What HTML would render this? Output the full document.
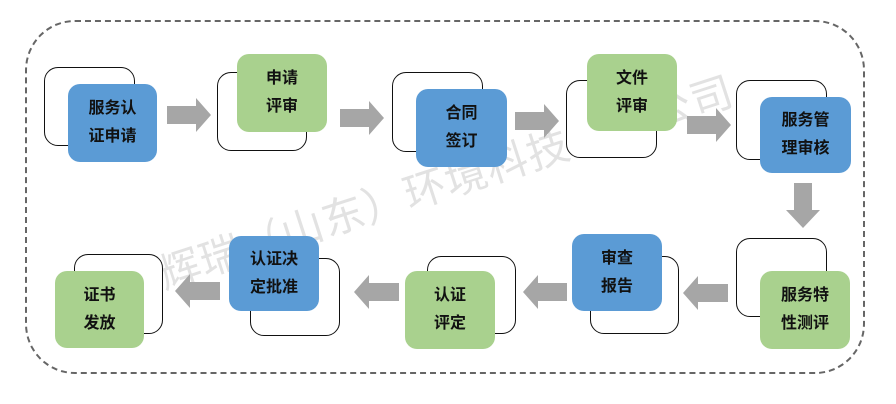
<!DOCTYPE html>
<html><head><meta charset="utf-8"><style>
body{margin:0;width:896px;height:404px;background:#fff;position:relative;overflow:hidden;font-family:"Liberation Sans","Noto Sans CJK SC",sans-serif}
.d{position:absolute;border:2.5px dashed #666;border-radius:50px;left:25px;top:20px;width:840px;height:354px;box-sizing:border-box}
.o{position:absolute;border:1.5px solid #111;border-radius:14px;box-sizing:border-box;background:#fff}
.b,.g{position:absolute;border-radius:12px;display:flex;align-items:center;justify-content:center;text-align:center;font-weight:bold;font-size:16px;line-height:28px;color:#111}
.b{background:#5b9bd5}.g{background:#a9d18e}
.wm{position:absolute;left:445px;top:180px;transform:translate(-50%,-50%) rotate(-18deg);font-size:42px;color:rgba(150,150,150,0.28);white-space:nowrap;letter-spacing:1px}
svg{position:absolute;left:0;top:0}
</style></head><body>
<div class="d"></div>
<div class="wm">辉瑞（山东）环境科技有限公司</div>
<svg width="896" height="404">
<g fill="#a6a6a6">
<polygon points="167,106 196,106 196,98 211,115 196,132 196,124 167,124"/>
<polygon points="340,109 369,109 369,101 384,118 369,135 369,127 340,127"/>
<polygon points="515,112 544,112 544,104 559,121 544,138 544,130 515,130"/>
<polygon points="687,116 716,116 716,108 731,125 716,142 716,134 687,134"/>
<polygon points="794,183 812,183 812,210 820,210 803,228 786,210 794,210"/>
<polygon points="728,284 698,284 698,276 683,293 698,310 698,302 728,302"/>
<polygon points="567,283 538,283 538,275 523,292 538,309 538,301 567,301"/>
<polygon points="399,283 369,283 369,275 354,292 369,309 369,301 399,301"/>
<polygon points="220,282 190,282 190,274 175,291 190,308 190,300 220,300"/>
</g></svg>
<div class="o" style="left:44px;top:67px;width:91px;height:79px"></div>
<div class="b" style="left:68px;top:84px;width:89px;height:78px">服务认<br>证申请</div>
<div class="o" style="left:217px;top:72px;width:90px;height:79px"></div>
<div class="g" style="left:237px;top:54px;width:90px;height:78px">申请<br>评审</div>
<div class="o" style="left:392px;top:72px;width:91px;height:80px"></div>
<div class="b" style="left:416px;top:89px;width:91px;height:78px">合同<br>签订</div>
<div class="o" style="left:566px;top:80px;width:91px;height:78px"></div>
<div class="g" style="left:587px;top:54px;width:90px;height:77px">文件<br>评审</div>
<div class="o" style="left:736px;top:80px;width:91px;height:80px"></div>
<div class="b" style="left:760px;top:97px;width:91px;height:76px">服务管<br>理审核</div>
<div class="o" style="left:736px;top:238px;width:91px;height:79px"></div>
<div class="g" style="left:760px;top:271px;width:90px;height:78px">服务特<br>性测评</div>
<div class="o" style="left:590px;top:256px;width:89px;height:78px"></div>
<div class="b" style="left:572px;top:234px;width:90px;height:77px">审查<br>报告</div>
<div class="o" style="left:427px;top:256px;width:89px;height:78px"></div>
<div class="g" style="left:405px;top:271px;width:90px;height:78px">认证<br>评定</div>
<div class="o" style="left:250px;top:258px;width:90px;height:78px"></div>
<div class="b" style="left:229px;top:236px;width:90px;height:75px">认证决<br>定批准</div>
<div class="o" style="left:74px;top:254px;width:89px;height:80px"></div>
<div class="g" style="left:55px;top:271px;width:89px;height:77px">证书<br>发放</div>
</body></html>
